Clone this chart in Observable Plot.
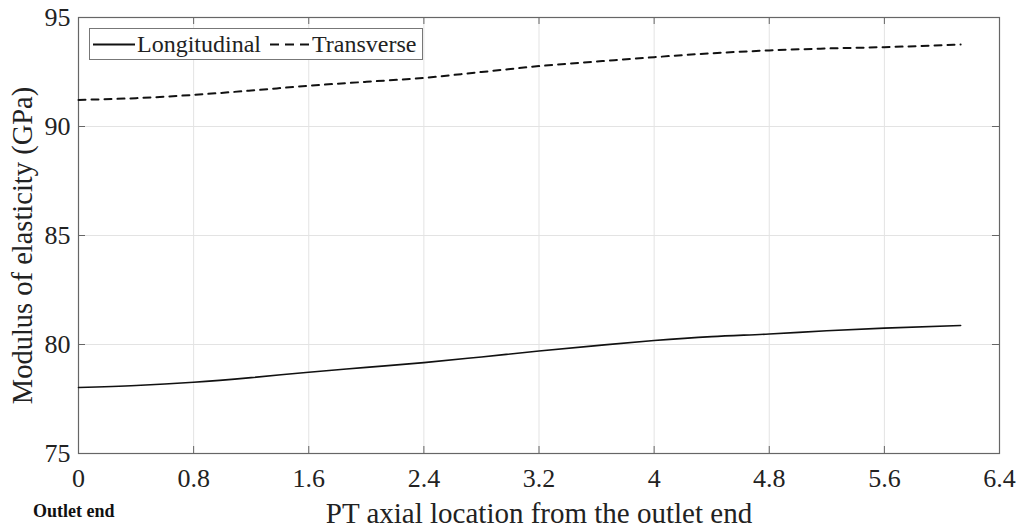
<!DOCTYPE html>
<html>
<head>
<meta charset="utf-8">
<script src="https://cdn.jsdelivr.net/npm/d3@7"></script>
<script src="https://cdn.jsdelivr.net/npm/@observablehq/plot@0.6"></script>
<style>
  html, body { margin: 0; padding: 0; background: #fff; }
  #wrap { position: relative; width: 1019px; height: 531px; font-family: "Liberation Serif", "DejaVu Serif", serif; color: #222; }
  #legend { position: absolute; left: 89px; top: 28px; }
  #outlet { position: absolute; left: 33px; top: 500px; font-size: 18px; line-height: 22px; font-weight: bold; color: #111; }
</style>
</head>
<body>
<div id="wrap">
  <div id="chart"></div>
  <div id="legend"></div>
  <div id="outlet">Outlet end</div>
</div>
<script>
// Data
const positions = [0, 0.4, 0.8, 1.2, 1.6, 2.0, 2.4, 2.8, 3.2, 3.6, 4.0, 4.4, 4.8, 5.2, 5.6, 6.13];
const longitudinal = [78.03, 78.12, 78.27, 78.48, 78.73, 78.95, 79.17, 79.43, 79.70, 79.95, 80.18, 80.36, 80.48, 80.63, 80.75, 80.87];
const transverse = [91.22, 91.30, 91.45, 91.65, 91.87, 92.05, 92.23, 92.50, 92.77, 92.98, 93.18, 93.36, 93.49, 93.58, 93.64, 93.76];
const seriesNames = ["Longitudinal", "Transverse"];
const xTicks = [0, 0.8, 1.6, 2.4, 3.2, 4, 4.8, 5.6, 6.4];
const yTicks = [75, 80, 85, 90, 95];
const xLabel = "PT axial location from the outlet end";
const yLabel = "Modulus of elasticity (GPa)";

const rows = [];
positions.forEach((p, i) => {
  rows.push({x: p, y: longitudinal[i], s: seriesNames[0]});
  rows.push({x: p, y: transverse[i], s: seriesNames[1]});
});

const xDom = [0, 6.4], yDom = [75, 95];
const tickLenX = 7 / 143.9, tickLenY = 7 / 21.8;

const chart = Plot.plot({
  width: 1019,
  height: 531,
  marginLeft: 78,
  marginRight: 20,
  marginTop: 17,
  marginBottom: 78,
  style: {fontFamily: "Liberation Serif, serif", color: "#222", background: "#fff"},
  x: {domain: xDom},
  y: {domain: yDom},
  marks: [
    Plot.ruleX(xTicks.slice(1, -1), {stroke: "#e3e3e3", strokeWidth: 1}),
    Plot.ruleY(yTicks.slice(1, -1), {stroke: "#e3e3e3", strokeWidth: 1}),
    Plot.ruleX(xTicks, {y1: yDom[0], y2: yDom[0] + tickLenY, stroke: "#666"}),
    Plot.ruleX(xTicks, {y1: yDom[1], y2: yDom[1] - tickLenY, stroke: "#666"}),
    Plot.ruleY(yTicks, {x1: xDom[0], x2: xDom[0] + tickLenX, stroke: "#666"}),
    Plot.ruleY(yTicks, {x1: xDom[1], x2: xDom[1] - tickLenX, stroke: "#666"}),
    Plot.frame({stroke: "#666", strokeWidth: 1.2}),
    Plot.line(rows.filter(d => d.s === seriesNames[0]), {x: "x", y: "y", curve: "monotone-x", stroke: "#111", strokeWidth: 1.6}),
    Plot.line(rows.filter(d => d.s === seriesNames[1]), {x: "x", y: "y", curve: "monotone-x", stroke: "#111", strokeWidth: 2, strokeDasharray: "7,6"}),
    Plot.axisX(xTicks, {tickSize: 0, tickPadding: 15, fontSize: 26, label: null, tickFormat: d => String(+d.toFixed(1))}),
    Plot.axisY(yTicks, {tickSize: 0, tickPadding: 8, fontSize: 26, label: null}),
    Plot.text([xLabel], {frameAnchor: "bottom", dy: 69, fontSize: 29, text: d => d}),
    Plot.text([yLabel], {frameAnchor: "left", dx: -56, dy: 10, rotate: -90, textAnchor: "middle", fontSize: 28.5, text: d => d})
  ]
});
document.getElementById("chart").appendChild(chart);

const legend = document.getElementById("legend");
legend.innerHTML =
  `<svg width="335" height="33" style="display:block">
     <rect x="0.5" y="0.5" width="333" height="31" fill="#fff" stroke="#777" stroke-width="1"/>
     <line x1="4" y1="16.5" x2="46" y2="16.5" stroke="#111" stroke-width="1.8"/>
     <text x="48" y="24" font-family="Liberation Serif, serif" font-size="24" fill="#222">${seriesNames[0]}</text>
     <line x1="181" y1="16.5" x2="220" y2="16.5" stroke="#111" stroke-width="2" stroke-dasharray="9,6"/>
     <text x="223" y="24" font-family="Liberation Serif, serif" font-size="24" fill="#222">${seriesNames[1]}</text>
   </svg>`;
</script>
</body>
</html>
